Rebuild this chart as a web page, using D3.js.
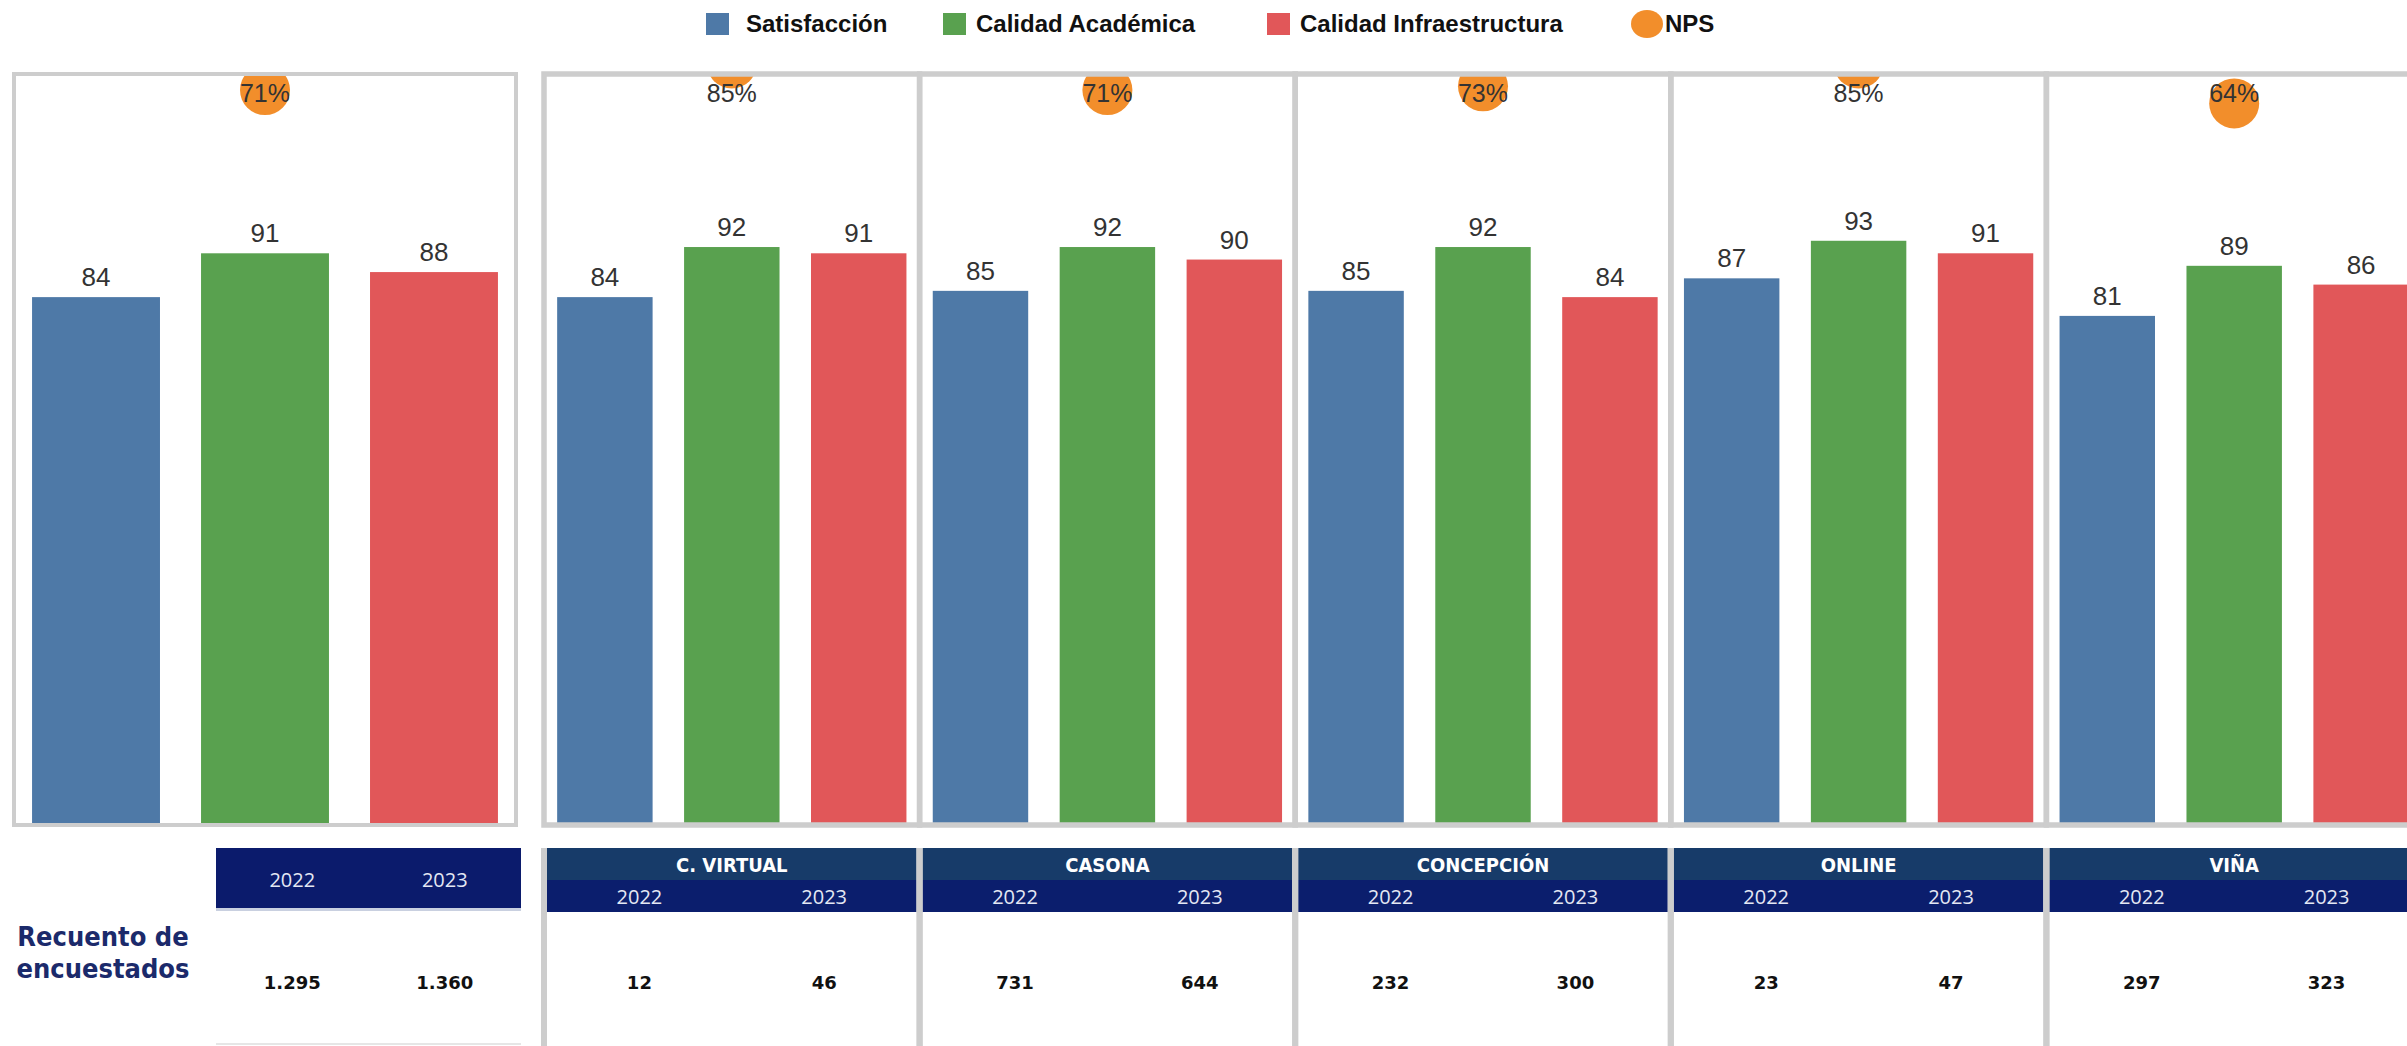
<!DOCTYPE html>
<html>
<head>
<meta charset="utf-8">
<script src="https://cdn.jsdelivr.net/npm/d3@7"></script>
<style>
  html, body { margin: 0; padding: 0; background: #fff; overflow: hidden; }
  svg { display: block; }
</style>
</head>
<body>
<div id="chart"></div>
<script>
// data
const panels = ["Total", "C. VIRTUAL", "CASONA", "CONCEPCIÓN", "ONLINE", "VIÑA"];
const series = ["Satisfacción", "Calidad Académica", "Calidad Infraestructura"];
const satisfaccion = [84, 84, 85, 85, 87, 81];
const calidadAcademica = [91, 92, 92, 92, 93, 89];
const calidadInfraestructura = [88, 91, 90, 84, 91, 86];
const nps = [71, 85, 71, 73, 85, 64];
const years = ["2022", "2023"];
const encuestados2022 = [1295, 12, 731, 232, 23, 297];
const encuestados2023 = [1360, 46, 644, 300, 47, 323];

const width = 2407;
const height = 1046;
const colors = ["#4e79a7", "#59a14f", "#e15759"];
const npsColor = "#f28e2b";
const border = "#cdcdcd";

const fmt = d3.formatLocale({ decimal: ",", thousands: ".", grouping: [3], currency: ["$", ""] }).format(",d");

const values = [satisfaccion, calidadAcademica, calidadInfraestructura];

const svg = d3.select("#chart")
	.append("svg")
	.attr("width", width)
	.attr("height", height)
	.attr("viewBox", [0, 0, width, height]);

// shared vertical scales
const y = d3.scaleLinear()
	.domain([0, 119])
	.range([823, 78]);

const yNps = d3.scaleLinear()
	.domain([0, 100])
	.range([225, 35]);

// panel boxes
const panelStep = 375.6;
function panelBox(i) {
	if (i === 0) return { x0: 14, x1: 516 };
	const x0 = 544 + panelStep * (i - 1);
	return { x0: x0, x1: x0 + panelStep };
}

// legend
const legend = svg.append("g")
	.attr("font-family", "'Liberation Sans', Arial, sans-serif")
	.attr("font-weight", "bold")
	.attr("font-size", 24)
	.attr("fill", "#111");
const legendX = [706, 943, 1267];
series.forEach((s, i) => {
	legend.append("rect")
		.attr("x", legendX[i]).attr("y", 13)
		.attr("width", 23).attr("height", 22)
		.attr("fill", colors[i]);
	legend.append("text")
		.attr("x", legendX[i] + (i === 0 ? 40 : 33)).attr("y", 32)
		.text(s);
});
legend.append("ellipse")
	.attr("cx", 1647).attr("cy", 24)
	.attr("rx", 16).attr("ry", 14)
	.attr("fill", npsColor);
legend.append("text")
	.attr("x", 1665).attr("y", 32)
	.text("NPS");

const defs = svg.append("defs");

panels.forEach((p, i) => {
	const b = panelBox(i);
	const g = svg.append("g");

	const inner = i === 0 ? [b.x0 + 2, b.x1 - 2] : [b.x0 + 3, b.x1 - 3];
	const x = d3.scaleBand()
		.domain(series)
		.range(inner)
		.paddingInner(i === 0 ? 0.243 : 0.248)
		.paddingOuter(i === 0 ? 0.095 : 0.08);

	defs.append("clipPath")
		.attr("id", "clip" + i)
		.append("rect")
		.attr("x", inner[0]).attr("y", 76)
		.attr("width", inner[1] - inner[0]).attr("height", 747);

	g.selectAll("rect.bar")
		.data(series)
		.join("rect")
		.attr("class", "bar")
		.attr("x", d => x(d))
		.attr("width", x.bandwidth())
		.attr("y", (d, j) => y(values[j][i]))
		.attr("height", (d, j) => y(0) - y(values[j][i]))
		.attr("fill", (d, j) => colors[j]);

	g.selectAll("text.val")
		.data(series)
		.join("text")
		.attr("class", "val")
		.attr("x", d => x(d) + x.bandwidth() / 2)
		.attr("y", (d, j) => y(values[j][i]) - 11)
		.attr("text-anchor", "middle")
		.attr("font-family", "'Liberation Sans', Arial, sans-serif")
		.attr("font-size", 26)
		.attr("fill", "#333")
		.text((d, j) => values[j][i]);

	const cx = x(series[1]) + x.bandwidth() / 2;
	g.append("circle")
		.attr("clip-path", `url(#clip${i})`)
		.attr("cx", cx)
		.attr("cy", yNps(nps[i]))
		.attr("r", 25)
		.attr("fill", npsColor);
	g.append("text")
		.attr("x", cx)
		.attr("y", 102)
		.attr("text-anchor", "middle")
		.attr("font-family", "'Liberation Sans', Arial, sans-serif")
		.attr("font-size", 25)
		.attr("fill", "#333")
		.text(nps[i] + "%");

	// border
	g.append("rect")
		.attr("x", b.x0).attr("y", 74)
		.attr("width", b.x1 - b.x0).attr("height", 751)
		.attr("fill", "none")
		.attr("stroke", border)
		.attr("stroke-width", i === 0 ? 4 : 5.5);

	// table part
	const t = svg.append("g");
	let tx0, tx1;
	if (i === 0) {
		tx0 = 216; tx1 = 521;
		t.append("rect")
			.attr("x", tx0).attr("y", 848)
			.attr("width", tx1 - tx0).attr("height", 60)
			.attr("fill", "#0b1b6c");
		t.append("rect")
			.attr("x", tx0).attr("y", 908)
			.attr("width", tx1 - tx0).attr("height", 3)
			.attr("fill", "#c9d0e0");
		t.append("line")
			.attr("x1", tx0).attr("x2", tx1)
			.attr("y1", 1044).attr("y2", 1044)
			.attr("stroke", "#e6e6e6").attr("stroke-width", 2);
	} else {
		tx0 = b.x0 + 3; tx1 = b.x1 - 3;
		t.append("rect")
			.attr("x", tx0).attr("y", 848)
			.attr("width", tx1 - tx0).attr("height", 32)
			.attr("fill", "#173b69");
		t.append("rect")
			.attr("x", tx0).attr("y", 880)
			.attr("width", tx1 - tx0).attr("height", 32)
			.attr("fill", "#0b1e6d");
		t.append("text")
			.attr("x", (tx0 + tx1) / 2).attr("y", 872)
			.attr("text-anchor", "middle")
			.attr("font-family", "'Liberation Sans Narrow', 'DejaVu Sans Condensed', sans-serif")
			.attr("font-weight", "bold")
			.attr("font-size", 20)
			.attr("fill", "#fff")
			.text(p);
		t.append("line")
			.attr("x1", b.x0).attr("x2", b.x0)
			.attr("y1", 848).attr("y2", height)
			.attr("stroke", border).attr("stroke-width", 6);
		t.append("line")
			.attr("x1", b.x1).attr("x2", b.x1)
			.attr("y1", 848).attr("y2", height)
			.attr("stroke", border).attr("stroke-width", 6);
	}

	const xc = d3.scaleBand().domain(years).range([tx0, tx1]);
	t.selectAll("text.yr")
		.data(years)
		.join("text")
		.attr("class", "yr")
		.attr("x", d => xc(d) + xc.bandwidth() / 2)
		.attr("y", i === 0 ? 887 : 904)
		.attr("text-anchor", "middle")
		.attr("font-family", "'Open Sans', sans-serif")
		.attr("font-size", 20)
		.attr("fill", "#e4e8f4")
		.text(d => d);

	const counts = [encuestados2022[i], encuestados2023[i]];
	t.selectAll("text.cnt")
		.data(years)
		.join("text")
		.attr("class", "cnt")
		.attr("x", d => xc(d) + xc.bandwidth() / 2)
		.attr("y", 989)
		.attr("text-anchor", "middle")
		.attr("font-family", "'DejaVu Sans', Verdana, sans-serif")
		.attr("font-weight", "bold")
		.attr("font-size", 18)
		.attr("fill", "#111")
		.text((d, j) => fmt(counts[j]));
});

// row label
svg.append("text")
	.attr("x", 103)
	.attr("text-anchor", "middle")
	.attr("font-family", "'Liberation Sans Narrow', 'DejaVu Sans Condensed', sans-serif")
	.attr("font-weight", "bold")
	.attr("font-size", 27)
	.attr("fill", "#1b2a6b")
	.selectAll("tspan")
	.data(["Recuento de", "encuestados"])
	.join("tspan")
	.attr("x", 103)
	.attr("y", (d, i) => 946 + i * 32)
	.text(d => d);
</script>
</body>
</html>
